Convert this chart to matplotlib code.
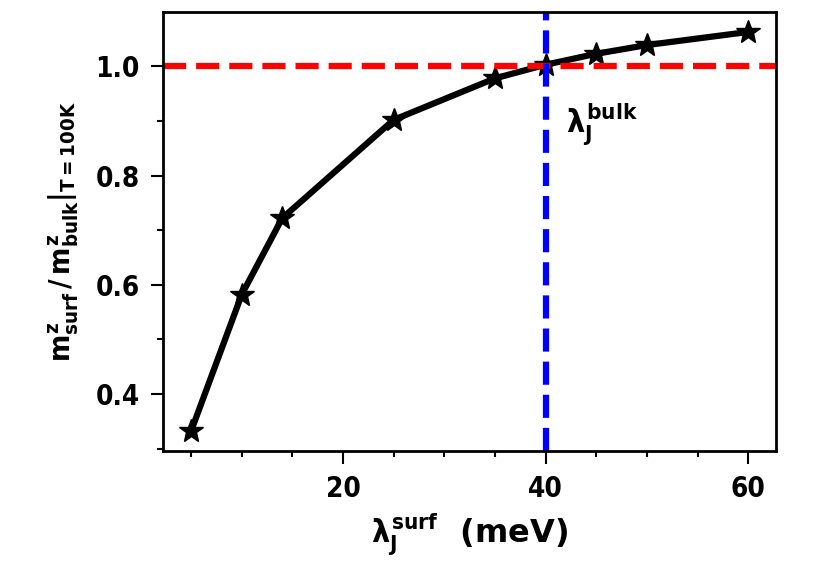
import matplotlib
matplotlib.use('Agg')
import matplotlib.pyplot as plt
from matplotlib.ticker import MultipleLocator

# lambda_J at the surface (meV) and magnetisation ratio at T = 100 K
LAMBDA_SURF = [5, 10, 14, 25, 35, 40, 45, 50, 60]
M_RATIO = [0.332, 0.582, 0.722, 0.902, 0.978, 1.003, 1.023, 1.039, 1.063]
LAMBDA_BULK = 40
RATIO_REF = 1.0

FONT = 'DejaVu Sans'
plt.rcParams['font.family'] = [FONT]
plt.rcParams['font.weight'] = 'bold'
plt.rcParams['font.stretch'] = 'condensed'
plt.rcParams['axes.labelweight'] = 'bold'
plt.rcParams['mathtext.fontset'] = 'custom'
for key in ('rm', 'it', 'bf', 'sf'):
    plt.rcParams['mathtext.' + key] = FONT + ':bold'


if __name__ == '__main__':
    fig = plt.figure(figsize=(8.16, 5.71), dpi=100)
    ax = fig.add_axes([0.2, 0.21, 0.751, 0.769])

    ax.plot(LAMBDA_SURF, M_RATIO, 'k-*', lw=4.5, ms=18)
    ax.axhline(RATIO_REF, color='red', ls='--', lw=4.5)
    ax.axvline(LAMBDA_BULK, color='blue', ls='--', lw=4.5)

    ax.text(42, 0.88, r'$\lambda_J^{bulk}$', fontsize=23)

    ax.set_xlabel(r'$\lambda_J^{surf}$  (meV)', fontsize=23, labelpad=6,
                  fontstretch='normal')
    ax.set_ylabel(r'$m^z_{surf}\,/\,m^z_{bulk}|_{T=100K}$', fontsize=21,
                  labelpad=10)

    ax.xaxis.set_major_locator(MultipleLocator(20))
    ax.xaxis.set_minor_locator(MultipleLocator(5))
    ax.yaxis.set_major_locator(MultipleLocator(0.2))
    ax.yaxis.set_minor_locator(MultipleLocator(0.1))
    ax.tick_params(which='major', length=9, width=1.5, labelsize=20, pad=8)
    ax.tick_params(which='minor', length=4.5, width=1.5)
    for sp in ax.spines.values():
        sp.set_linewidth(2)

    fig.savefig('out.png', dpi=100)
